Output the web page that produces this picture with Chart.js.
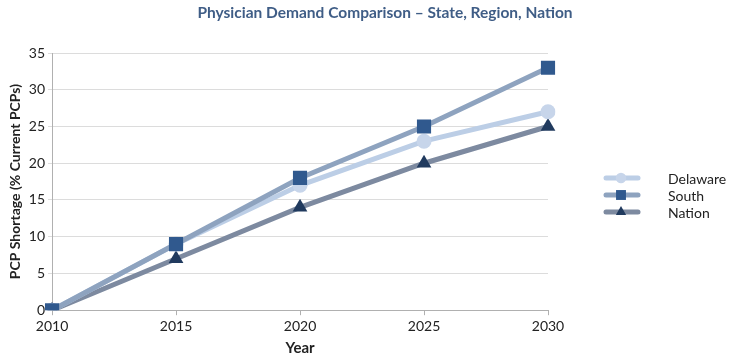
<!DOCTYPE html>
<html>
<head>
<meta charset="utf-8">
<script src="https://cdn.jsdelivr.net/npm/chart.js@4"></script>
<style>
  html, body { margin: 0; padding: 0; background: #fff; }
</style>
</head>
<body>
<canvas id="lineChart" width="731" height="361"></canvas>
<script>
const years = ['2010', '2015', '2020', '2025', '2030'];
const delaware = [0, 9, 17, 23, 27];
const south = [0, 9, 18, 25, 33];
const nation = [0, 7, 14, 20, 25];
const yTicks = [0, 5, 10, 15, 20, 25, 30, 35];

const font = "Lato, 'Open Sans', sans-serif";

const series = [
  { label: 'South', data: south, line: '#8ea3bf', point: '#30598e', style: 'rect', radius: 10 },
  { label: 'Delaware', data: delaware, line: '#bccee6', point: '#c7d5ea', style: 'circle', radius: 7.5 },
  { label: 'Nation', data: nation, line: '#7d8aa0', point: '#203a5e', style: 'triangle', radius: 8.5 }
];

// Title and legend drawn by hand so they sit where the reference has them
const extras = {
  id: 'extras',
  afterDraw(chart) {
    const c = chart.ctx;
    c.save();
    c.fillStyle = '#3f5d86';
    c.font = "bold 15.5px " + font;
    c.textAlign = 'center';
    c.textBaseline = 'middle';
    c.fillText('Physician Demand Comparison \u2013 State, Region, Nation', 385, 13);

    const order = ['Delaware', 'South', 'Nation'];
    order.forEach((name, i) => {
      const s = series.find(d => d.label === name);
      const y = 178 + i * 17;
      c.strokeStyle = s.line;
      c.lineWidth = 5;
      c.lineCap = 'round';
      c.beginPath();
      c.moveTo(606, y);
      c.lineTo(638, y);
      c.stroke();
      c.fillStyle = s.point;
      Chart.helpers.drawPoint(c, {
        pointStyle: s.style,
        radius: s.radius * 0.7,
        borderWidth: 0
      }, 621, y);
      c.fillStyle = '#222';
      c.font = "14px " + font;
      c.textAlign = 'left';
      c.fillText(name, 668, y + 1);
    });
    c.restore();
  }
};

new Chart(document.getElementById('lineChart'), {
  type: 'line',
  data: {
    labels: years,
    datasets: series.map(s => ({
      label: s.label,
      data: s.data,
      borderColor: s.line,
      borderWidth: 5,
      pointStyle: s.style,
      pointRadius: s.radius,
      pointHoverRadius: s.radius,
      pointBackgroundColor: s.point,
      pointBorderColor: s.point,
      pointBorderWidth: 0,
      tension: 0
    }))
  },
  options: {
    responsive: false,
    animation: false,
    devicePixelRatio: 1,
    layout: { padding: { top: 53, right: 183, bottom: 0, left: 5 } },
    plugins: {
      legend: { display: false },
      title: { display: false },
      tooltip: { enabled: false }
    },
    scales: {
      x: {
        offset: false,
        grid: { drawOnChartArea: false, drawTicks: true, tickLength: 5, color: '#b0b0b0' },
        border: { color: '#b0b0b0' },
        ticks: { color: '#222', font: { family: font, size: 14 }, padding: 3, maxRotation: 0 },
        title: { display: true, text: 'Year', color: '#222', font: { family: font, size: 15, weight: 'bold' }, padding: { top: 1 } }
      },
      y: {
        min: 0,
        max: 35,
        afterBuildTicks(axis) { axis.ticks = yTicks.map(v => ({ value: v })); },
        grid: { color: '#dcdcdc', tickLength: 4 },
        border: { color: '#b0b0b0' },
        ticks: { color: '#222', font: { family: font, size: 14 }, padding: 3, autoSkip: false },
        title: { display: true, text: 'PCP Shortage (% Current PCPs)', color: '#222', font: { family: font, size: 14, weight: 'bold' }, padding: 2 }
      }
    }
  },
  plugins: [extras]
});
</script>
</body>
</html>
